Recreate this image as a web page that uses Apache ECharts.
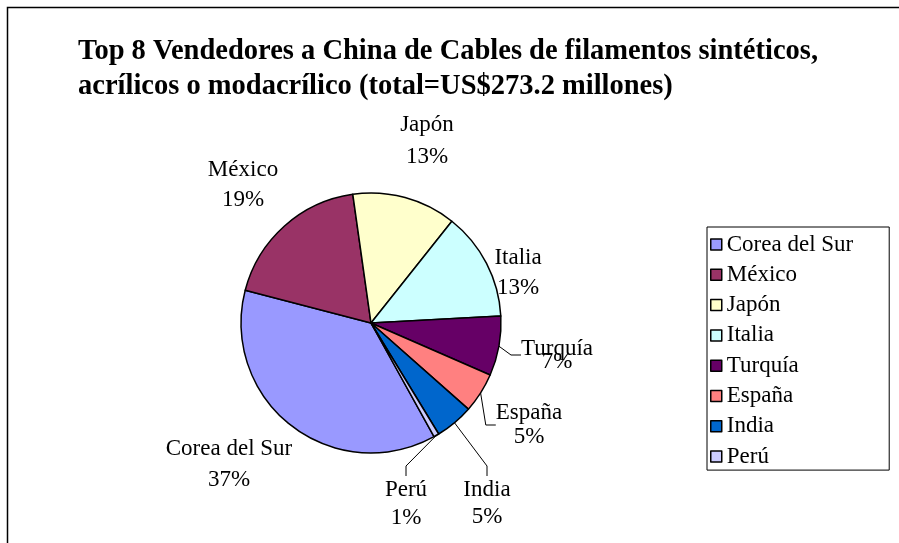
<!DOCTYPE html>
<html>
<head>
<meta charset="utf-8">
<script src="https://cdn.jsdelivr.net/npm/echarts@6/dist/echarts.min.js"></script>
<style>
  html, body { margin: 0; padding: 0; background: #fff; }
  #chart { width: 899px; height: 543px; }
</style>
</head>
<body>
<div id="chart"></div>
<script>
// Exporters to China, millions of US$ (total 273.2)
const countries = ['Corea del Sur', 'México', 'Japón', 'Italia', 'Turquía', 'España', 'India', 'Perú'];
const valuesMillionUSD = [101.4, 51.1, 35.3, 36.8, 20.2, 13.6, 13.0, 1.8];
const sliceColors = ['#9999FF', '#993366', '#FFFFCC', '#CCFFFF', '#660066', '#FF8080', '#0066CC', '#CCCCFF'];
const titleLines = [
  'Top 8 Vendedores a China de Cables de filamentos sintéticos,',
  'acrílicos o modacrílico (total=US$273.2 millones)'
];

const serif = "'Times New Roman', 'Liberation Serif', serif";

// Where each data label sits (block centre), its line spacing and leader line
const labelPlacement = {
  'Corea del Sur': { at: [229, 464], lh: 31, line: false },
  'México':        { at: [243, 185], lh: 30, line: false },
  'Japón':         { at: [427, 141], lh: 32, line: false },
  'Italia':        { at: [518, 273], lh: 30, line: false },
  'Turquía':       { at: [557, 355], lh: 13, line: true },
  'España':        { at: [529, 425], lh: 24, line: true },
  'India':         { at: [487, 503], lh: 27, line: true },
  'Perú':          { at: [406, 504], lh: 28, line: true }
};

const chart = echarts.init(document.getElementById('chart'), null, { renderer: 'canvas' });

chart.setOption({
  animation: false,
  backgroundColor: '#fff',
  graphic: [{
    type: 'rect',
    shape: { x: 7.5, y: 7.5, width: 900, height: 600 },
    style: { fill: 'none', stroke: '#000', lineWidth: 1.5 },
    silent: true
  }],
  title: {
    text: titleLines.join('\n'),
    left: 73,
    top: 29,
    textStyle: {
      fontFamily: serif,
      fontWeight: 'bold',
      fontSize: 28.5,
      lineHeight: 35,
      color: '#000'
    }
  },
  legend: {
    orient: 'vertical',
    left: 707,
    top: 227,
    data: countries,
    icon: 'rect',
    itemWidth: 11,
    itemHeight: 11,
    itemGap: 7.3,
    itemTextGap: 6,
    padding: [6, 36, 2, 3],
    borderColor: '#000',
    borderWidth: 1,
    itemStyle: { borderColor: '#000', borderWidth: 1.5 },
    textStyle: { fontFamily: serif, fontSize: 23, lineHeight: 23, color: '#000' },
    selectedMode: false
  },
  series: [{
    type: 'pie',
    center: [371, 323],
    radius: 130,
    startAngle: -61,
    clockwise: true,
    avoidLabelOverlap: false,
    percentPrecision: 0,
    itemStyle: { borderColor: '#000', borderWidth: 1.5 },
    emphasis: { disabled: true },
    label: {
      show: true,
      position: 'outside',
      formatter: '{b}\n{d}%',
      fontFamily: serif,
      fontSize: 23,
      color: '#000'
    },
    labelLine: {
      length2: 10,
      smooth: false,
      lineStyle: { color: '#000', width: 1 }
    },
    labelLayout: function (p) {
      const spot = labelPlacement[countries[p.dataIndex]];
      return { x: spot.at[0], y: spot.at[1], align: 'center', verticalAlign: 'middle' };
    },
    data: countries.map(function (name, i) {
      return {
        name: name,
        value: valuesMillionUSD[i],
        itemStyle: { color: sliceColors[i] },
        label: { lineHeight: labelPlacement[name].lh },
        labelLine: { show: labelPlacement[name].line }
      };
    })
  }]
});
</script>
</body>
</html>
